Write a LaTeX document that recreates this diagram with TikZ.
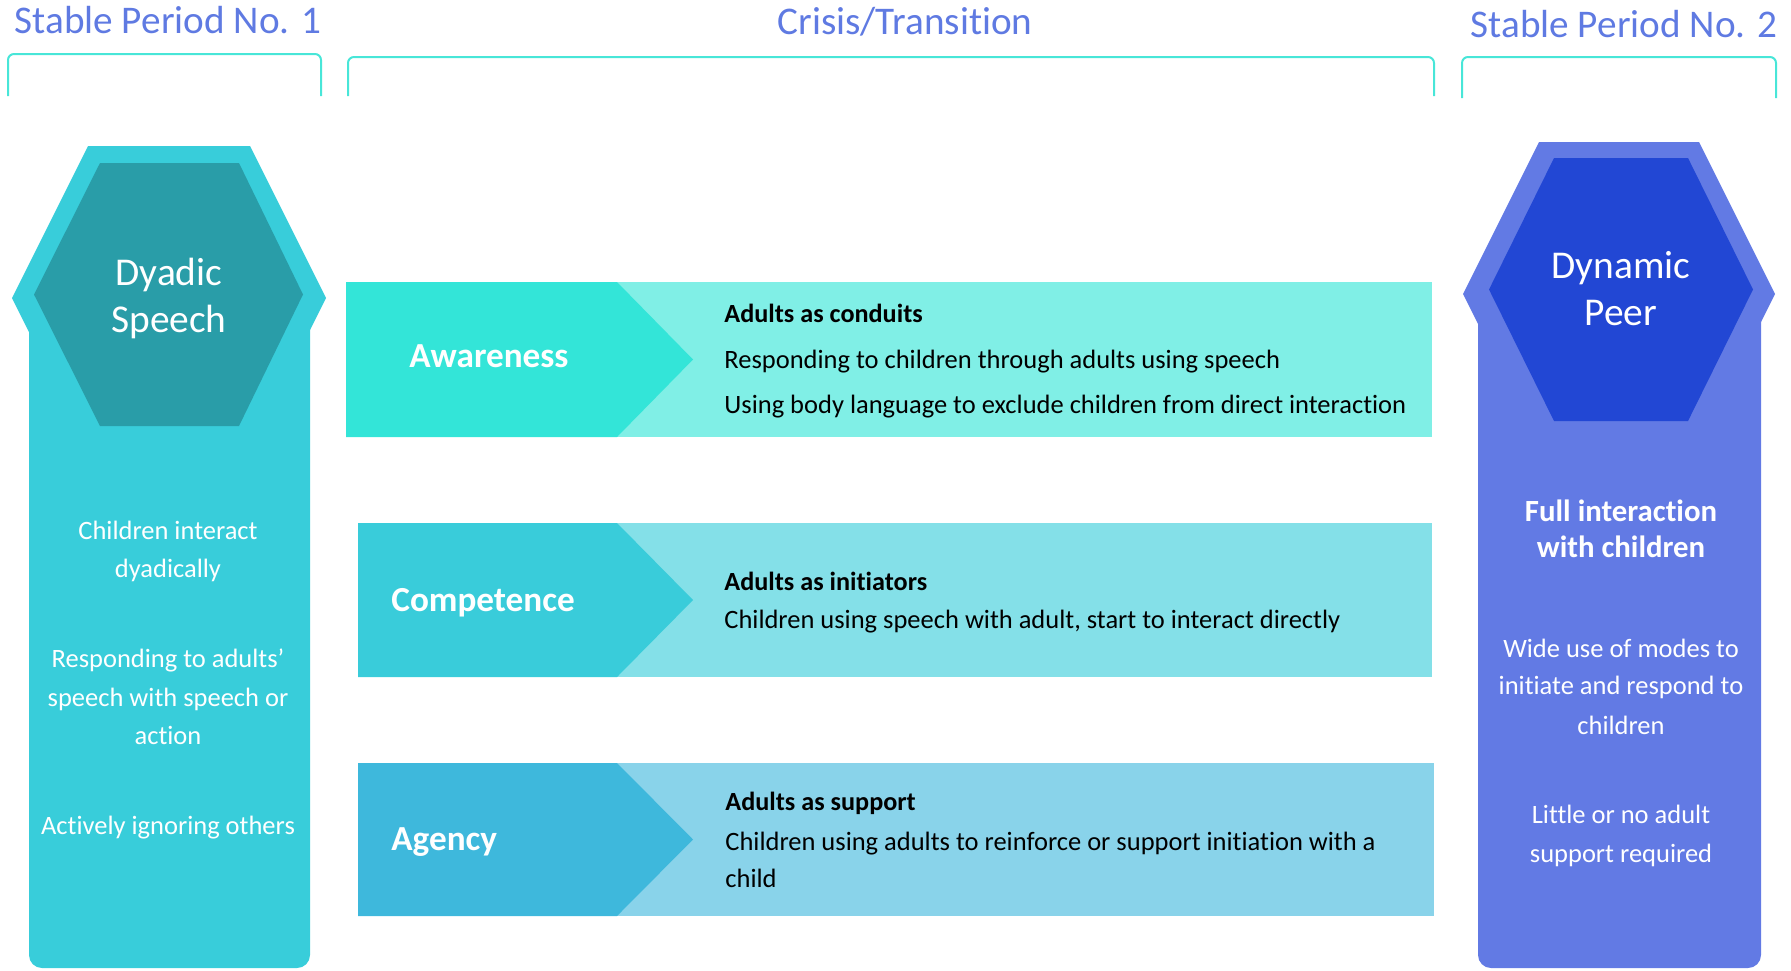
\documentclass[tikz,border=0pt]{standalone}
\usepackage{fontspec}
\setmainfont{Carlito}[Ligatures=NoCommon]
\usepackage{xcolor}
\usepackage{tikz}

\definecolor{headblue}{RGB}{95,122,226}
\definecolor{bracketcol}{RGB}{72,230,216}
\definecolor{leftouter}{RGB}{56,205,218}
\definecolor{leftinner}{RGB}{41,157,168}
\definecolor{rightouter}{RGB}{98,122,228}
\definecolor{rightinner}{RGB}{34,71,212}
\definecolor{awdark}{RGB}{51,229,216}
\definecolor{awlight}{RGB}{128,239,230}
\definecolor{codark}{RGB}{57,204,218}
\definecolor{colight}{RGB}{132,224,232}
\definecolor{agdark}{RGB}{62,184,220}
\definecolor{aglight}{RGB}{137,211,234}

\begin{document}
\begin{tikzpicture}[x=0.5pt, y=-0.5pt,
    head/.style={anchor=base, text=headblue, inner sep=0pt, font=\fontsize{19.6}{23}\selectfont},
    hexlabel/.style={anchor=base, text=white, inner sep=0pt, font=\fontsize{19.7}{23}\selectfont},
    coltext/.style={anchor=base, text=white, inner sep=0pt, font=\fontsize{13.25}{16}\selectfont},
    colbold/.style={coltext, font=\fontsize{15.4}{18}\selectfont\bfseries},
    barlabel/.style={anchor=base west, text=white, inner sep=0pt, font=\fontsize{17.6}{20}\selectfont\bfseries},
    bartext/.style={anchor=base west, inner sep=0pt, font=\fontsize{13.25}{16}\selectfont},
    barhead/.style={bartext, font=\fontsize{13.1}{16}\selectfont\bfseries},
    bracket/.style={draw=bracketcol, line width=1pt, rounded corners=3pt}]
\useasboundingbox (0,0) rectangle (1791,970);

% Headers and brackets
\node[head] (head1) at (168,33) {Stable Period No. 1};
\node[head] (head2) at (905,34) {Crisis/Transition};
\node[head] (head3) at (1624,37) {Stable Period No. 2};
\draw[bracket] (8,96) -- (8,54) -- (321,54) -- (321,96);
\draw[bracket] (348,96) -- (348,57) -- (1434,57) -- (1434,96);
\draw[bracket] (1462,98) -- (1462,57) -- (1776,57) -- (1776,98);

% Stable period 1
\fill[leftouter, rounded corners=6.5pt] (29,300) rectangle (310,968);
\fill[leftouter] (88,146) -- (250,146) -- (326,298) -- (250,450) -- (88,450) -- (12,298) -- cycle;
\fill[leftinner] (100,163) -- (239,163) -- (303,294.5) -- (239,426) -- (100,426) -- (34,294.5) -- cycle;
\node[hexlabel] (dyadic) at (169,285) {Dyadic};
\node[hexlabel] (speech) at (169,332) {Speech};
\node[coltext] (l1) at (168,539) {Children interact};
\node[coltext] (l2) at (168,577) {dyadically};
\node[coltext] (l3) at (168,667) {Responding to adults’};
\node[coltext] (l4) at (168,706) {speech with speech or};
\node[coltext] (l5) at (168,744) {action};
\node[coltext] (l6) at (168,834) {Actively ignoring others};

% Stable period 2
\fill[rightouter, rounded corners=6.5pt] (1478,300) rectangle (1761,968);
\fill[rightouter] (1539,142) -- (1699,142) -- (1775,294) -- (1699,446) -- (1539,446) -- (1463,294) -- cycle;
\fill[rightinner] (1554,158) -- (1688,158) -- (1753,289.5) -- (1688,421) -- (1554,421) -- (1489,289.5) -- cycle;
\node[hexlabel] (dynamic) at (1621,278) {Dynamic};
\node[hexlabel] (peer) at (1621,325) {Peer};
\node[colbold] (r1) at (1621,521) {Full interaction};
\node[colbold] (r2) at (1621,557) {with children};
\node[coltext] (r3) at (1621,657) {Wide use of modes to};
\node[coltext] (r4) at (1621,694) {initiate and respond to};
\node[coltext] (r5) at (1621,734) {children};
\node[coltext] (r6) at (1621,823) {Little or no adult};
\node[coltext] (r7) at (1621,862) {support required};

% Crisis bars
\fill[awlight] (346,282) rectangle (1432,437);
\fill[awdark] (346,282) -- (617,282) -- (693,359.5) -- (617,437) -- (346,437) -- cycle;
\node[barlabel] (aware) at (409,367) {Awareness};
\node[barhead] (aw1) at (724,322) {Adults as conduits};
\node[bartext] (aw2) at (724,368) {Responding to children through adults using speech};
\node[bartext] (aw3) at (724,413) {Using body language to exclude children from direct interaction};

\fill[colight] (358,523) rectangle (1432,677);
\fill[codark] (358,523) -- (617,523) -- (693,600) -- (617,677) -- (358,677) -- cycle;
\node[barlabel] (compet) at (391,611) {Competence};
\node[barhead] (co1) at (724,590) {Adults as initiators};
\node[bartext] (co2) at (724,628) {Children using speech with adult, start to interact directly};

\fill[aglight] (358,763) rectangle (1434,916);
\fill[agdark] (358,763) -- (617,763) -- (693,839.5) -- (617,916) -- (358,916) -- cycle;
\node[barlabel] (agency) at (391,850) {Agency};
\node[barhead] (ag1) at (725,810) {Adults as support};
\node[bartext] (ag2) at (725,850) {Children using adults to reinforce or support initiation with a};
\node[bartext] (ag3) at (725,887) {child};
\end{tikzpicture}
\end{document}
